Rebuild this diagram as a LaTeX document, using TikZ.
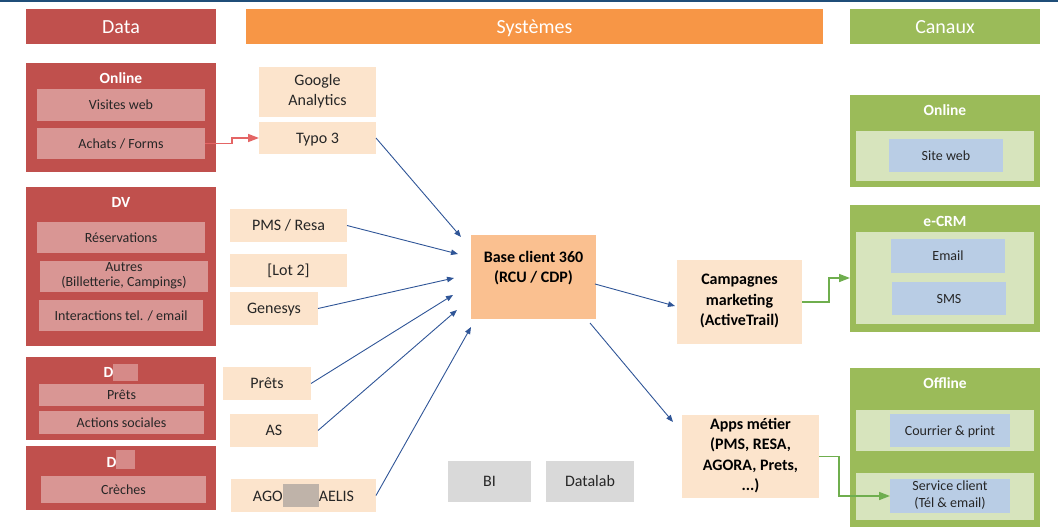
\documentclass[tikz,border=0pt]{standalone}
\usepackage{fontspec}
\setmainfont{Carlito}
\usetikzlibrary{arrows.meta}
\definecolor{datared}{HTML}{C0504D}
\definecolor{datapink}{HTML}{D99694}
\definecolor{sysorange}{HTML}{F79646}
\definecolor{syspeach}{HTML}{FCE4CC}
\definecolor{sysbase}{HTML}{FAC090}
\definecolor{sysgray}{HTML}{D9D9D9}
\definecolor{cangreen}{HTML}{9BBB59}
\definecolor{canlight}{HTML}{D7E4BD}
\definecolor{canblue}{HTML}{B9CDE5}
\definecolor{linkblue}{HTML}{2F5597}
\definecolor{linkred}{HTML}{E46565}
\definecolor{linkgreen}{HTML}{6FAE4E}
\definecolor{topblue}{HTML}{1F4E79}
\definecolor{blurpink}{HTML}{D68A88}
\definecolor{blurgray}{HTML}{BFB3A9}
\definecolor{ink}{HTML}{262626}
\newcommand{\linestrut}{\rule[-0.27em]{0pt}{1.22em}}

\begin{document}
\begin{tikzpicture}[x=1pt,y=-1pt,
  every node/.style={inner sep=0pt, outer sep=0pt, align=center,
    execute at begin node=\linestrut, execute at end node=\linestrut},
  hdr/.style={fill=#1, text=white, minimum width=190pt, minimum height=35pt, font=\fontsize{20}{24}\selectfont},
  grp/.style={fill=#1, minimum width=190pt},
  grptitle/.style={text=white, font=\fontsize{15.5}{19}\selectfont\bfseries, anchor=base},
  item/.style={fill=datapink, text=ink, font=\fontsize{14}{15}\selectfont},
  sys/.style={fill=syspeach, text=ink, font=\fontsize{16}{20}\selectfont},
  sysbold/.style={text=black, font=\fontsize{16}{20.5}\selectfont\bfseries},
  inner/.style={fill=canlight, minimum width=178pt},
  chan/.style={fill=canblue, text=ink, font=\fontsize{14}{17}\selectfont},
  bluelink/.style={draw=linkblue, line width=0.9pt, -{Triangle[length=7pt,width=5.5pt]}},
  redlink/.style={draw=linkred, line width=1.6pt, -{Triangle[length=11pt,width=8pt]}},
  greenlink/.style={draw=linkgreen, line width=1.6pt, -{Triangle[length=11pt,width=8pt]}}]
\useasboundingbox (0,0) rectangle (1058,527);
\fill[topblue] (0,0) rectangle (1058,2);

\node[hdr=datared] (hData) at (121,26.5) {Data};
\node[hdr=sysorange, minimum width=577pt] (hSys) at (534.5,26.5) {Systèmes};
\node[hdr=cangreen] (hCan) at (945,26.5) {Canaux};

\node[grp=datared, minimum height=109pt] (gOnline) at (121,117.5) {};
\node[grptitle] (tOnline) at ([shift={(0,20.5)}]gOnline.north) {Online};
\node[item, minimum width=168pt, minimum height=32pt] (visites) at (121,105) {Visites web};
\node[item, minimum width=168pt, minimum height=31pt] (achats) at (121,143.5) {Achats / Forms};

\node[grp=datared, minimum height=159pt] (gDV) at (121,266.5) {};
\node[grptitle] (tDV) at ([shift={(0,20.5)}]gDV.north) {DV};
\node[item, minimum width=168pt, minimum height=31pt] (resa) at (121,237.5) {Réservations};
\node[item, minimum width=168pt, minimum height=31pt] (autres) at (124,276.5) {Autres\\(Billetterie, Campings)};
\node[item, minimum width=164pt, minimum height=31pt] (inter) at (121,315.5) {Interactions tel. / email};

\node[grp=datared, minimum height=83pt] (gDA) at (121,398.5) {};
\node[grptitle] (tDA) at ([shift={(0,20.5)}]gDA.north) {D\textcolor{blurpink}{\rule[-3pt]{25pt}{17pt}}};
\node[item, minimum width=165pt, minimum height=22pt] (pretsData) at (121.5,395) {Prêts};
\node[item, minimum width=165pt, minimum height=23pt] (actions) at (121.5,422.5) {Actions sociales};

\node[grp=datared, minimum height=64pt] (gDB) at (121,478) {};
\node[grptitle] (tDB) at ([shift={(0,21)}]gDB.north) {D\textcolor{blurpink}{\rule[-2pt]{19pt}{19pt}}};
\node[item, minimum width=165pt, minimum height=27pt] (creches) at (123.5,489.5) {Crèches};

\node[sys, minimum width=117pt, minimum height=50pt] (ga) at (317.5,92) {Google\\Analytics};
\node[sys, minimum width=117pt, minimum height=32pt] (typo) at (317.5,138) {Typo 3};
\node[sys, minimum width=117pt, minimum height=33pt] (pms) at (288.5,225.5) {PMS / Resa};
\node[sys, minimum width=117pt, minimum height=33pt] (lot) at (288.5,270.5) {[Lot 2]};
\node[sys, minimum width=88pt, minimum height=33pt] (genesys) at (274,308.5) {Genesys};
\node[sys, minimum width=88pt, minimum height=33pt] (pretsSys) at (267,383.5) {Prêts};
\node[sys, minimum width=88pt, minimum height=33pt] (sysAS) at (274,430.5) {AS};
\node[sys, minimum width=145pt, minimum height=33pt] (agora) at (303.5,495.5) {AGO\textcolor{blurgray}{\rule[-6pt]{36pt}{23pt}}AELIS};

\node[fill=sysbase, minimum width=125pt, minimum height=84pt,
  label={[sysbold, yshift=8pt]center:{Base client 360\\(RCU / CDP)}}] (base) at (533.5,277) {};
\node[sys, sysbold, minimum width=125pt, minimum height=84pt] (camp) at (739.5,302) {Campagnes\\marketing\\(ActiveTrail)};
\node[sys, sysbold, minimum width=137pt, minimum height=83pt] (apps) at (750.5,456.5) {Apps métier\\(PMS, RESA,\\AGORA, Prets,\\...)};
\node[sys, fill=sysgray, minimum width=83pt, minimum height=41pt] (bi) at (489.5,481.5) {BI};
\node[sys, fill=sysgray, minimum width=88pt, minimum height=41pt] (datalab) at (590,481.5) {Datalab};

\node[grp=cangreen, minimum height=92pt] (cOnline) at (945,141) {};
\node[grptitle] (tcOnline) at ([shift={(0,20.5)}]cOnline.north) {Online};
\node[inner, minimum height=50pt] (cOnlineIn) at (945,156) {};
\node[chan, minimum width=114pt, minimum height=33pt] (siteweb) at (946,155.5) {Site web};

\node[grp=cangreen, minimum height=127pt] (cCRM) at (945,268.5) {};
\node[grptitle] (tcCRM) at ([shift={(0,21.5)}]cCRM.north) {e-CRM};
\node[inner, minimum height=92pt] (cCRMIn) at (945,278) {};
\node[chan, minimum width=114pt, minimum height=34pt] (email) at (948,256) {Email};
\node[chan, minimum width=114pt, minimum height=33pt] (sms) at (949,298.5) {SMS};

\node[grp=cangreen, minimum height=159pt] (cOff) at (945,447.5) {};
\node[grptitle] (tcOff) at ([shift={(0,20)}]cOff.north) {Offline};
\node[inner, minimum height=41pt] (cOffInA) at (945,430.5) {};
\node[chan, minimum width=120pt, minimum height=33pt] (courrier) at (950,430.5) {Courrier \& print};
\node[inner, minimum height=47pt] (cOffInB) at (945,496.5) {};
\node[chan, minimum width=120pt, minimum height=34pt] (service) at (950,496) {Service client\\(Tél \& email)};

\draw[redlink] (achats.east) -- ++(27,0) |- (typo.west);

\draw[bluelink] (typo.east) -- ([shift={(-10,-40)}]base.west);
\draw[bluelink] (pms.east) -- ([shift={(-13,-23)}]base.west);
\draw[bluelink] (genesys.east) -- ([shift={(-17,1)}]base.west);
\draw[bluelink] (pretsSys.east) -- ([shift={(-18,18)}]base.west);
\draw[bluelink] (sysAS.east) -- ([shift={(-14,33)}]base.west);
\draw[bluelink] (agora.east) -- ([shift={(0,50)}]base.west);
\draw[bluelink] ([shift={(-1,7)}]base.east) -- ([shift={(-2,4)}]camp.west);
\draw[bluelink] ([shift={(-6,4)}]base.south east) -- ([shift={(-9,7)}]apps.north west);

\draw[greenlink] (camp.east) -- ++(27,0) |- ([shift={(0,9.5)}]cCRM.west);
\draw[greenlink] (apps.east) -- ++(20,0) |- (service.west);
\end{tikzpicture}
\end{document}
